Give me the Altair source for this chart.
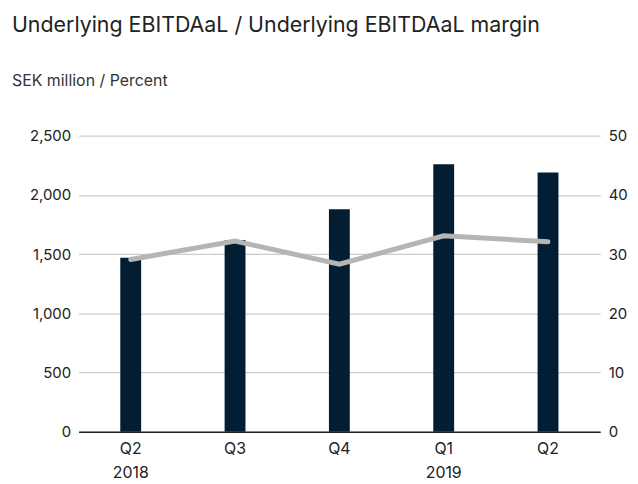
import altair as alt
import pandas as pd

quarters = ["Q2", "Q3", "Q4", "Q1", "Q2"]
year_labels = ["2018", "", "", "2019", ""]
ebitda = [1470, 1620, 1880, 2260, 2190]
margin = [29.1, 32.2, 28.3, 33.1, 32.1]

periods = [q + ("\n" + y if y else "") for q, y in zip(quarters, year_labels)]
df = pd.DataFrame({"period": periods, "ebitda": ebitda, "margin": margin})

FONT = "Inter"
TXT = "#222222"

base = alt.Chart(df).encode(
    x=alt.X(
        "period:N",
        sort=periods,
        scale=alt.Scale(paddingInner=0, paddingOuter=0),
        axis=alt.Axis(
            title=None,
            labelAngle=0,
            ticks=False,
            domainColor="#222222",
            domainWidth=1.5,
            labelFontSize=16,
            labelColor=TXT,
            labelFont=FONT,
            labelPadding=9,
            labelLineHeight=24,
            labelExpr="split(datum.label, '\\n')",
        ),
    )
)

bars = base.mark_bar(color="#031e33", size=21).encode(
    y=alt.Y(
        "ebitda:Q",
        scale=alt.Scale(domain=[0, 2500]),
        axis=alt.Axis(
            title=None,
            values=[0, 500, 1000, 1500, 2000, 2500],
            format=",d",
            ticks=False,
            domain=False,
            gridColor="#cccccc",
            gridWidth=1.2,
            labelFontSize=15,
            labelColor=TXT,
            labelFont=FONT,
            labelPadding=8,
        ),
    )
)

line = base.mark_line(color="#b5b5b3", strokeWidth=5, strokeCap="round").encode(
    y=alt.Y(
        "margin:Q",
        scale=alt.Scale(domain=[0, 50]),
        axis=alt.Axis(
            title=None,
            orient="right",
            values=[0, 10, 20, 30, 40, 50],
            ticks=False,
            domain=False,
            grid=False,
            labelFontSize=15,
            labelColor=TXT,
            labelFont=FONT,
            labelPadding=8,
        ),
    )
)

chart = (
    alt.layer(bars, line)
    .resolve_scale(y="independent")
    .properties(
        width=525,
        height=298,
        autosize=alt.AutoSizeParams(type="none"),
        padding={"left": 71, "top": 127, "right": 30, "bottom": 50},
        title=alt.TitleParams(
            text="Underlying EBITDAaL / Underlying EBITDAaL margin",
            subtitle="SEK million / Percent",
            anchor="start",
            frame="group",
            dx=-67,
            offset=40,
            font=FONT,
            fontSize=21.5,
            fontWeight="normal",
            color=TXT,
            subtitleFont=FONT,
            subtitleFontSize=16,
            subtitleColor="#333333",
            subtitlePadding=37,
        ),
    )
    .configure_view(stroke=None)
)

chart.save("out.html", embed_options={"renderer": "svg", "actions": False})
